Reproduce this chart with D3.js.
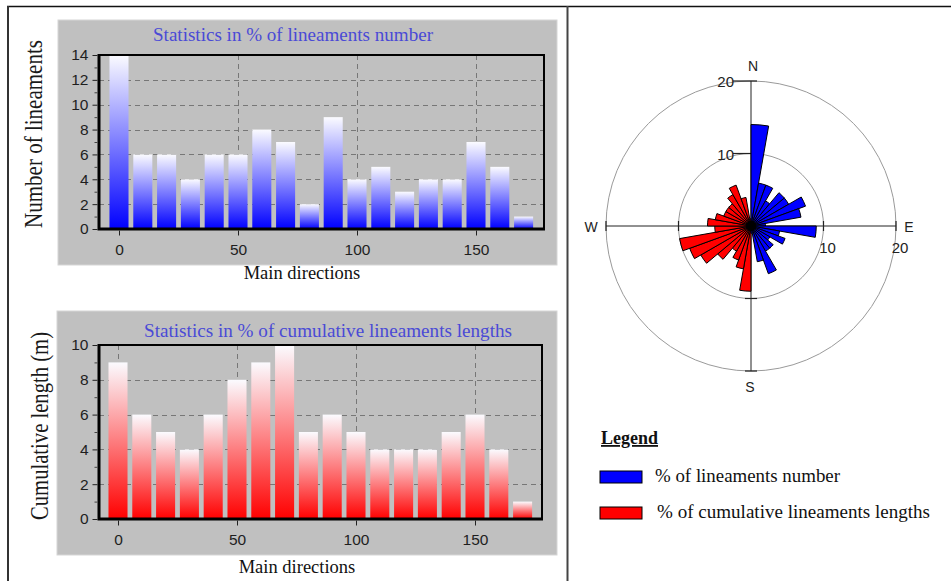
<!DOCTYPE html>
<html>
<head>
<meta charset="utf-8">
<script src="https://cdn.jsdelivr.net/npm/d3@7/dist/d3.min.js"></script>
<style>
  body { margin: 0; background: #fff; }
  svg { display: block; }
</style>
</head>
<body>
<svg id="chart" width="951" height="581"></svg>
<script>
// Direction classes (degrees, 10° bins)
const directions = [0, 10, 20, 30, 40, 50, 60, 70, 80, 90, 100, 110, 120, 130, 140, 150, 160, 170];
// % of lineaments number per class
const lineamentCount = [14, 6, 6, 4, 6, 6, 8, 7, 2, 9, 4, 5, 3, 4, 4, 7, 5, 1];
// % of cumulative lineament lengths per class
const cumulativeLength = [9, 6, 5, 4, 6, 8, 9, 10, 5, 6, 5, 4, 4, 4, 5, 6, 4, 1];

const xTicks = [0, 50, 100, 150];
const countTicks = [0, 2, 4, 6, 8, 10, 12, 14];
const lengthTicks = [0, 2, 4, 6, 8, 10];
const roseRings = [10, 20];
const roseLabels = ["N", "E", "S", "W"];

const serif = "'Liberation Serif', 'Times New Roman', serif";
const sans = "'Liberation Sans', Arial, sans-serif";

const svg = d3.select("#chart");
const defs = svg.append("defs");

function gradient(id, color) {
  const g = defs.append("linearGradient").attr("id", id)
    .attr("x1", 0).attr("y1", 0).attr("x2", 0).attr("y2", 1);
  g.append("stop").attr("offset", "0%").attr("stop-color", "#fbfbff");
  g.append("stop").attr("offset", "100%").attr("stop-color", color);
}
gradient("gradBlue", "#0000ff");
gradient("gradRed", "#ff0000");

// ---- table frame ----
svg.append("line").attr("x1", 7).attr("x2", 951).attr("y1", 6.5).attr("y2", 6.5)
  .attr("stroke", "#111").attr("stroke-width", 1.5);
svg.append("line").attr("x1", 8).attr("x2", 8).attr("y1", 6).attr("y2", 581)
  .attr("stroke", "#333").attr("stroke-width", 2);
svg.append("line").attr("x1", 567.5).attr("x2", 567.5).attr("y1", 6).attr("y2", 581)
  .attr("stroke", "#444").attr("stroke-width", 2);

// ---- bar chart ----
function drawBarChart(cfg) {
  const g = svg.append("g");
  g.append("rect").attr("x", cfg.panel[0]).attr("y", cfg.panel[1])
    .attr("width", cfg.panel[2]).attr("height", cfg.panel[3])
    .attr("fill", "#c0c0c0").attr("stroke", "#d6d6d6").attr("stroke-width", 1);

  const x = d3.scaleLinear().domain([0, 150]).range([cfg.x0, cfg.x150]);
  const y = d3.scaleLinear().domain([0, cfg.yMax]).range([cfg.bottom, cfg.top]);

  // grid
  g.append("g").selectAll("line").data(cfg.yTicks.filter(v => v > 0 && v < cfg.yMax)).join("line")
    .attr("x1", cfg.left).attr("x2", cfg.right)
    .attr("y1", d => Math.round(y(d)) + 0.5).attr("y2", d => Math.round(y(d)) + 0.5)
    .attr("stroke", "#777").attr("stroke-dasharray", "5,4");
  g.append("g").selectAll("line").data(xTicks).join("line")
    .attr("x1", d => Math.round(x(d)) + 0.5).attr("x2", d => Math.round(x(d)) + 0.5)
    .attr("y1", cfg.top).attr("y2", cfg.bottom)
    .attr("stroke", "#777").attr("stroke-dasharray", "5,4");

  // bars
  g.append("g").selectAll("rect").data(directions.map((d, i) => ({ d, v: cfg.values[i] }))).join("rect")
    .attr("x", p => x(p.d - 4)).attr("width", p => x(p.d + 4) - x(p.d - 4))
    .attr("y", p => y(p.v)).attr("height", p => y(0) - y(p.v))
    .attr("fill", `url(#${cfg.grad})`);

  // frame: thin top/right, thick left/bottom
  g.append("path")
    .attr("d", `M${cfg.left},${cfg.top}H${cfg.right}V${cfg.bottom}`)
    .attr("fill", "none").attr("stroke", "#000").attr("stroke-width", 2);
  g.append("path")
    .attr("d", `M${cfg.left},${cfg.top - 1}V${cfg.bottom}H${cfg.right + 1}`)
    .attr("fill", "none").attr("stroke", "#000").attr("stroke-width", 3);

  // y axis
  const minor = d3.range(1, cfg.yMax, 2);
  const ya = g.append("g").attr("transform", `translate(${cfg.left - 1.5},0)`)
    .call(d3.axisLeft(y).tickValues(cfg.yTicks).tickSize(5).tickPadding(4));
  ya.select(".domain").remove();
  ya.selectAll("text").attr("font-family", sans).attr("font-size", 15.5).attr("fill", "#1e1e1e");
  ya.selectAll("line").attr("stroke", "#222");
  const ym = g.append("g").attr("transform", `translate(${cfg.left - 1.5},0)`)
    .call(d3.axisLeft(y).tickValues(minor).tickSize(3).tickFormat(""));
  ym.select(".domain").remove();
  ym.selectAll("line").attr("stroke", "#444");

  // x axis
  const xa = g.append("g").attr("transform", `translate(0,${cfg.bottom + 1.5})`)
    .call(d3.axisBottom(x).tickValues(xTicks).tickSize(5).tickPadding(8));
  xa.select(".domain").remove();
  xa.selectAll("text").attr("font-family", sans).attr("font-size", 15.5).attr("fill", "#1e1e1e");
  xa.selectAll("line").attr("stroke", "#222");

  // titles
  g.append("text").attr("x", cfg.titleX).attr("y", cfg.titleY)
    .attr("text-anchor", "middle").attr("font-family", serif).attr("font-size", 18.5)
    .attr("fill", "#4a4ad6").attr("textLength", cfg.titleLen).attr("lengthAdjust", "spacingAndGlyphs")
    .text(cfg.title);
  g.append("text").attr("x", cfg.xLabelX).attr("y", cfg.xLabelY)
    .attr("text-anchor", "middle").attr("font-family", serif).attr("font-size", 18.5)
    .attr("fill", "#111").text("Main directions");
  g.append("text")
    .attr("transform", `translate(${cfg.yLabelX},${cfg.yLabelY}) rotate(-90)`)
    .attr("text-anchor", "middle").attr("font-family", serif).attr("font-size", 25)
    .attr("fill", "#1a1a1a").attr("textLength", 188).attr("lengthAdjust", "spacingAndGlyphs")
    .text(cfg.yTitle);
}

drawBarChart({
  panel: [58, 20, 499, 245], left: 99, right: 544, top: 55, bottom: 229,
  x0: 119, x150: 476, yMax: 14, yTicks: countTicks, values: lineamentCount, grad: "gradBlue",
  title: "Statistics in % of lineaments number", titleX: 293, titleY: 41, titleLen: 280,
  xLabelX: 302, xLabelY: 279, yLabelX: 42, yLabelY: 134, yTitle: "Number of lineaments"
});

drawBarChart({
  panel: [57, 311, 500, 244], left: 99, right: 542, top: 345, bottom: 519,
  x0: 118, x150: 475, yMax: 10, yTicks: lengthTicks, values: cumulativeLength, grad: "gradRed",
  title: "Statistics in % of cumulative lineaments lengths", titleX: 328, titleY: 337, titleLen: 368,
  xLabelX: 297, xLabelY: 573, yLabelX: 48, yLabelY: 426, yTitle: "Cumulative length (m)"
});

// ---- rose diagram ----
const cx = 751, cy = 226;
const r = d3.scaleLinear().domain([0, 20]).range([0, 145]);
const rose = svg.append("g").attr("transform", `translate(${cx},${cy})`);

rose.selectAll("circle").data(roseRings).join("circle")
  .attr("r", d => r(d)).attr("fill", "none").attr("stroke", "#9a9a9a").attr("stroke-width", 1);

const rMax = r(20);
const arms = [[0, -1], [1, 0], [0, 1], [-1, 0]];
rose.append("g").selectAll("line").data(arms).join("line")
  .attr("x1", 0).attr("y1", 0).attr("x2", a => a[0] * rMax).attr("y2", a => a[1] * rMax)
  .attr("stroke", "#222").attr("stroke-width", 1);

// ring ticks on each arm
const tickData = [];
arms.forEach((a, k) => roseRings.forEach(v => tickData.push({ a, k, v })));
rose.append("g").selectAll("line").data(tickData).join("line")
  .attr("x1", t => t.a[0] * r(t.v) + (t.a[0] === 0 ? (t.k === 0 ? -18 : -6) : 0))
  .attr("x2", t => t.a[0] * r(t.v) + (t.a[0] === 0 ? 6 : 0))
  .attr("y1", t => t.a[1] * r(t.v) + (t.a[1] === 0 ? -5 : 0))
  .attr("y2", t => t.a[1] * r(t.v) + (t.a[1] === 0 ? 5 : 0))
  .attr("stroke", "#222").attr("stroke-width", 1.2);

// wedges: blue = number, red = length (opposite direction)
const arc = d3.arc().innerRadius(0);
const wedge = (d, v, offset) => arc({
  outerRadius: r(v),
  startAngle: (d + offset) * Math.PI / 180,
  endAngle: (d + offset + 10) * Math.PI / 180
});
rose.append("g").selectAll("path").data(directions).join("path")
  .attr("d", (d, i) => wedge(d, cumulativeLength[i], 180))
  .attr("fill", "#ff0000").attr("stroke", "#000").attr("stroke-width", 1);
rose.append("g").selectAll("path").data(directions).join("path")
  .attr("d", (d, i) => wedge(d, lineamentCount[i], 0))
  .attr("fill", "#0000ff").attr("stroke", "#000").attr("stroke-width", 1);
rose.append("circle").attr("r", 5).attr("fill", "#000");

// ring labels
rose.append("g").selectAll("text").data(roseRings).join("text")
  .attr("x", -17).attr("y", d => -r(d) + 6)
  .attr("text-anchor", "end").attr("font-family", sans).attr("font-size", 15).attr("fill", "#222")
  .text(d => d);
rose.append("g").selectAll("text").data(roseRings).join("text")
  .attr("x", d => r(d) + 4).attr("y", 27)
  .attr("text-anchor", "middle").attr("font-family", sans).attr("font-size", 15).attr("fill", "#222")
  .text(d => d);

// compass labels
const compassPos = [[2, -155], [158, 6], [-1, 166], [-160, 6]];
rose.append("g").selectAll("text").data(roseLabels).join("text")
  .attr("x", (d, i) => compassPos[i][0]).attr("y", (d, i) => compassPos[i][1])
  .attr("text-anchor", "middle").attr("font-family", sans).attr("font-size", 14).attr("fill", "#222")
  .text(d => d);

// ---- legend ----
const legend = svg.append("g");
legend.append("text").attr("x", 601).attr("y", 444)
  .attr("font-family", serif).attr("font-size", 18).attr("font-weight", "bold")
  .attr("text-decoration", "underline").attr("fill", "#111").text("Legend");
const legendItems = [
  { label: "% of lineaments number", color: "#0000ff", y: 471, tx: 655, len: 185 },
  { label: "% of cumulative lineaments lengths", color: "#ff0000", y: 507, tx: 657, len: 273 }
];
legend.selectAll("rect").data(legendItems).join("rect")
  .attr("x", 600).attr("y", d => d.y).attr("width", 42).attr("height", 12)
  .attr("fill", d => d.color).attr("stroke", "#000").attr("stroke-width", 1);
legend.selectAll("text.item").data(legendItems).join("text").attr("class", "item")
  .attr("x", d => d.tx).attr("y", d => d.y + 11)
  .attr("font-family", serif).attr("font-size", 18.5).attr("fill", "#111")
  .attr("textLength", d => d.len).attr("lengthAdjust", "spacingAndGlyphs")
  .text(d => d.label);
</script>
</body>
</html>
